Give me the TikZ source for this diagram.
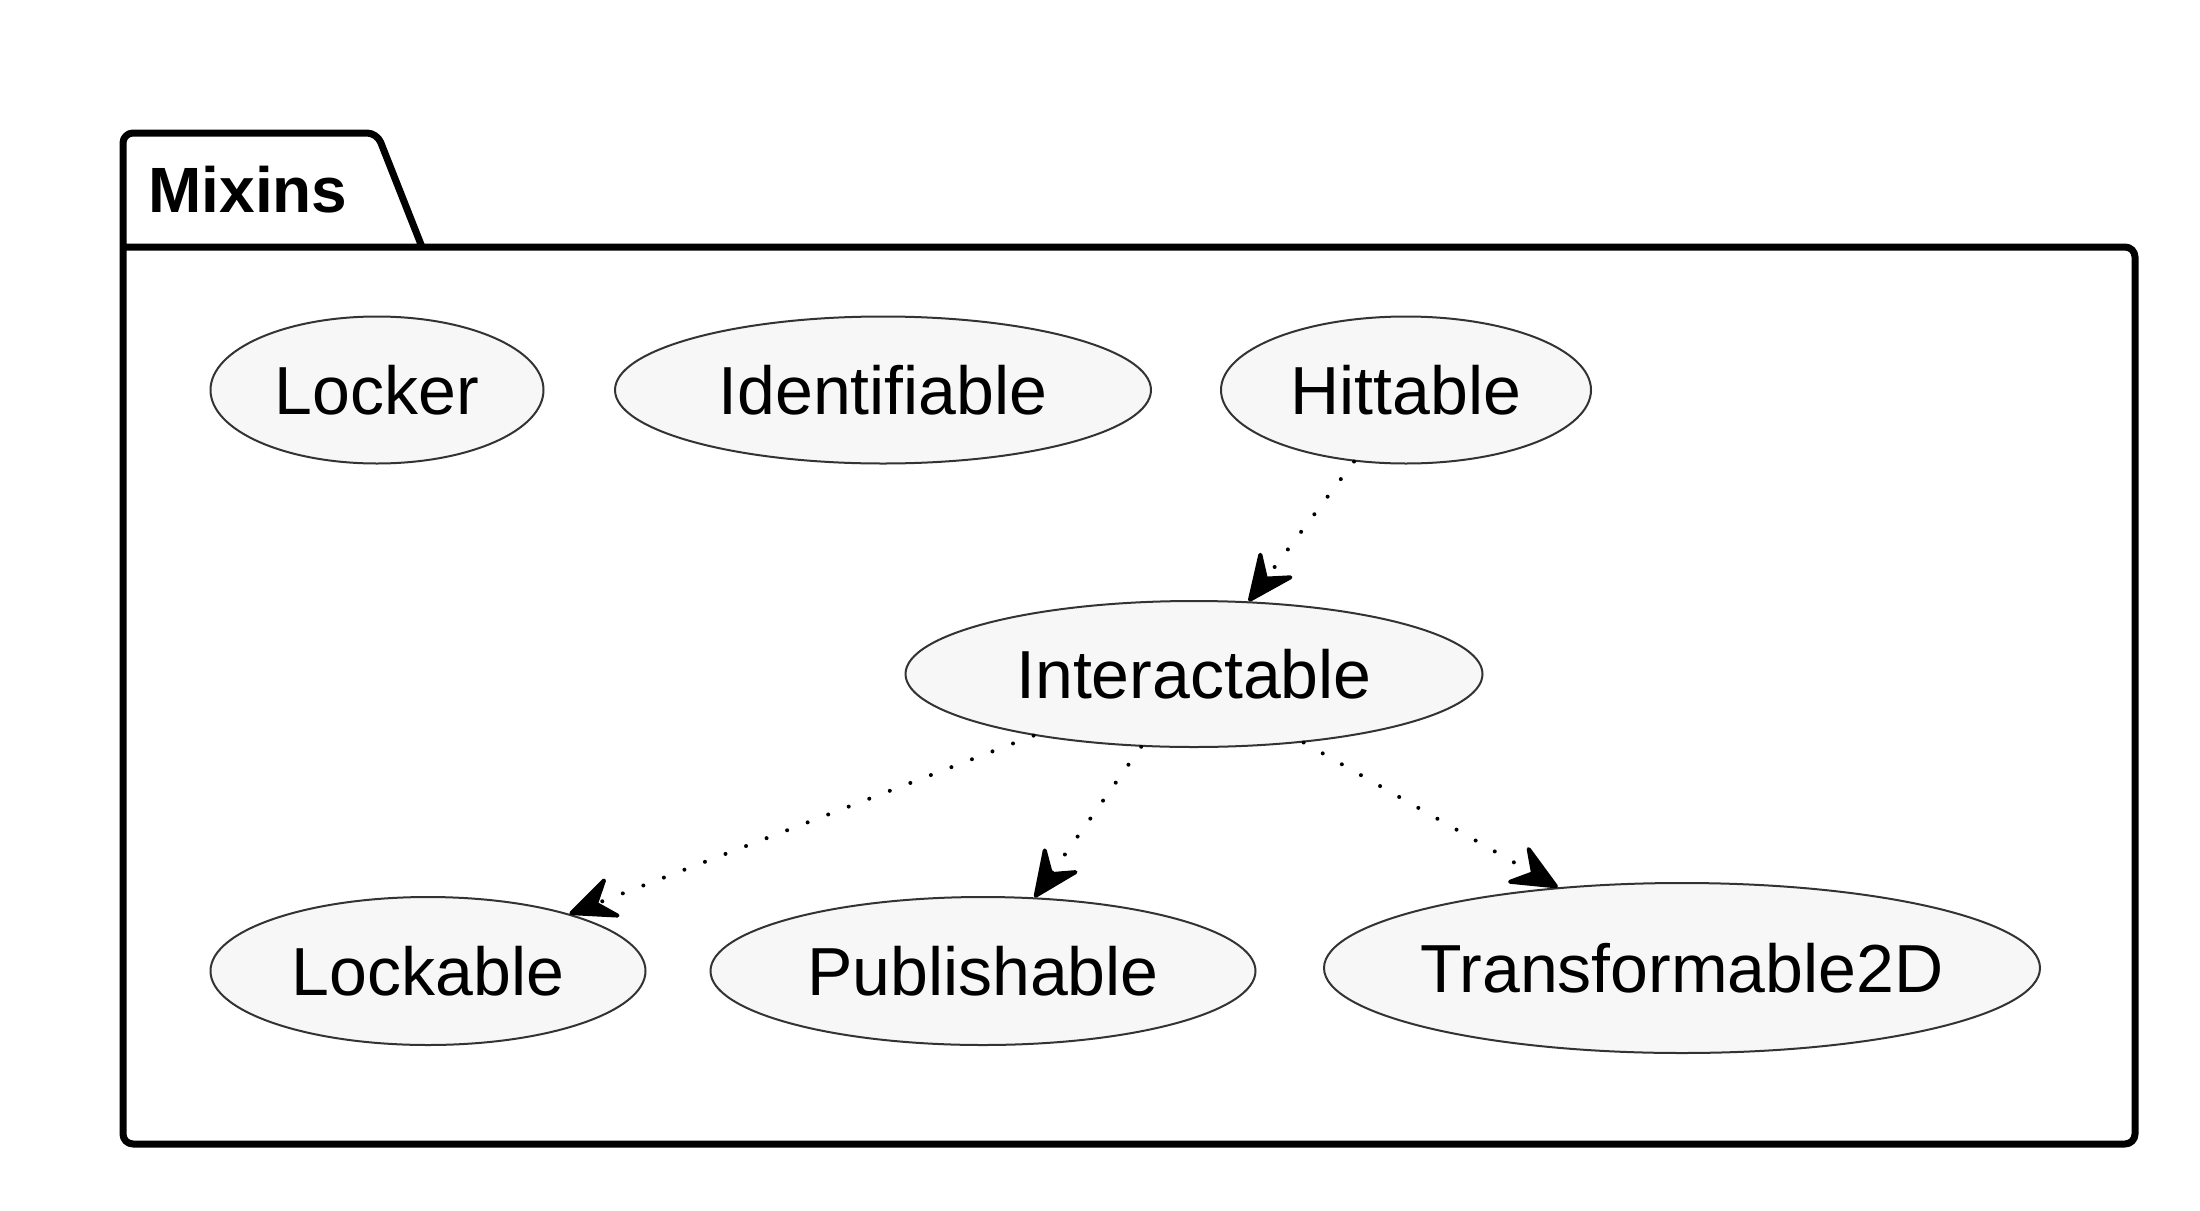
\documentclass[tikz,border=0pt]{standalone}
\usepackage{fontspec}
\setmainfont{Liberation Sans}
\usetikzlibrary{shapes.geometric,arrows.meta}
\definecolor{ufill}{HTML}{F7F7F7}
\definecolor{uline}{HTML}{333333}
\tikzset{
  uc/.style={ellipse, draw=uline, fill=ufill, line width=1pt, inner sep=0pt,
    font=\fontsize{34}{40}\selectfont, text height=24.5pt, text depth=0pt},
  pkgline/.style={line width=3.5pt, rounded corners=5pt, line join=round},
  dep/.style={line width=2pt, line cap=round, dash pattern=on 0pt off 11pt,
    -{Stealth[length=27pt,width=24pt,inset=10pt,round=false]}}
}
\begin{document}
\begin{tikzpicture}[x=0.5pt,y=-0.5pt]
\useasboundingbox[fill=white] (0,0) rectangle (2200,1210);
% package frame
\draw[pkgline] (123,247) -- (2135,247) -- (2135,1144) -- (123,1144) -- (123,133) -- (377,133) -- (422,247);
\node[anchor=base west, font=\bfseries\fontsize{32}{38}\selectfont, inner sep=0pt] (pkgname) at (148,212) {Mixins};
% use cases
\node[uc, minimum width=166.5pt, minimum height=73.5pt] (locker) at (377,390) {Locker};
\node[uc, minimum width=268pt, minimum height=73.5pt] (ident) at (883,390) {Identifiable};
\node[uc, minimum width=185pt, minimum height=73.5pt] (hit) at (1406,390) {Hittable};
\node[uc, minimum width=288.5pt, minimum height=73pt] (inter) at (1194,674) {Interactable};
\node[uc, minimum width=217.5pt, minimum height=74pt] (lockable) at (428,971) {Lockable};
\node[uc, minimum width=272.5pt, minimum height=74pt] (pub) at (983,971) {Publishable};
\node[uc, inner xsep=-6pt, minimum width=358pt, minimum height=85pt] (trans) at (1682,968) {Transformable2D};
% dependencies
\draw[dep] (hit.234.3) -- (inter.53.6);
\draw[dep] (inter.201.9) -- (lockable.22.5);
\draw[dep] (inter.234.8) -- (pub.55.6);
\draw[dep] (inter.328) -- (trans.147.8);
\end{tikzpicture}
\end{document}
